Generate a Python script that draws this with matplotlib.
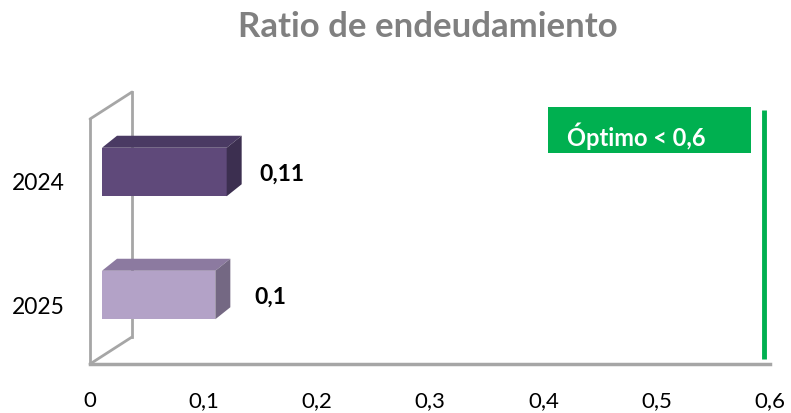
import matplotlib
matplotlib.use("Agg")
import matplotlib.pyplot as plt
from matplotlib.patches import Polygon, Rectangle
from matplotlib.transforms import ScaledTranslation

plt.rcParams['font.family'] = ['Lato', 'DejaVu Sans']

years = ["2025", "2024"]
values = [0.10, 0.11]
value_labels = ["0,1", "0,11"]
front_colors = ["#b3a2c7", "#5f497a"]
top_colors = ["#8c7aa0", "#4a3a63"]
side_colors = ["#746883", "#3c2f50"]
x_ticks = [0, 0.1, 0.2, 0.3, 0.4, 0.5, 0.6]
x_tick_labels = ["0", "0,1", "0,2", "0,3", "0,4", "0,5", "0,6"]
optimo = 0.6
optimo_label = "Óptimo < 0,6"
title = "Ratio de endeudamiento"

W, H = 791, 413
fig = plt.figure(figsize=(W / 100, H / 100), dpi=100)

# axes: x 0 -> px 90, 0.6 -> px 770 ; y from px 364 (bottom) to px 88 (top)
ax_left, ax_right = 90, 770
ax_bottom, ax_top = 364, 88
ax = fig.add_axes([ax_left / W, 1 - ax_bottom / H, (ax_right - ax_left) / W, (ax_bottom - ax_top) / H])
ax.set_xlim(0, 0.6)
ppc = 123.0
ylo = -(ax_bottom - 295) / ppc
yhi = 1 + (172 - ax_top) / ppc
ax.set_ylim(ylo, yhi)
ax.axis("off")

def off(dx, dy):
    return ax.transData + ScaledTranslation(dx / 100, dy / 100, fig.dpi_scale_trans)

bar_h = 48.5 / ppc
shift = 12
ddx, ddy = 15, 12

# back wall and floor
wall_col = "#a6a6a6"
wall_depth_x, wall_depth_y = 42, 27
ytop_wall = ylo + (ax_bottom - 119) / ppc
ax.plot([0, 0], [ylo, ytop_wall], color=wall_col, lw=2, transform=off(0, 0), clip_on=False)
ax.plot([0, 0], [ylo, ytop_wall], color=wall_col, lw=2,
        transform=off(wall_depth_x, wall_depth_y), clip_on=False)
for yy in [ylo, ytop_wall]:
    ax.annotate("", xy=(0, yy), xytext=(0, yy), xycoords=off(wall_depth_x, wall_depth_y), textcoords=off(0, 0),
                arrowprops=dict(arrowstyle="-", color=wall_col, lw=2, shrinkA=0, shrinkB=0))
ax.plot([0, 0.6], [ylo, ylo], color=wall_col, lw=2.5, clip_on=False)

# bars
tr = ax.transData
for i, (v, fc, tc, sc, lab) in enumerate(zip(values, front_colors, top_colors, side_colors, value_labels)):
    y0, y1 = i - bar_h / 2, i + bar_h / 2
    p0 = tr.transform((0, y1)) + [shift, 0]
    p1 = tr.transform((v, y1)) + [shift, 0]
    fig.patches.append(Polygon([p0, p1, p1 + [ddx, ddy], p0 + [ddx, ddy]], closed=True, facecolor=tc,
                               edgecolor="none", transform=None, zorder=3))
    q0 = tr.transform((v, y0)) + [shift, 0]
    q1 = tr.transform((v, y1)) + [shift, 0]
    fig.patches.append(Polygon([q0, q1, q1 + [ddx, ddy], q0 + [ddx, ddy]], closed=True, facecolor=sc,
                               edgecolor="none", transform=None, zorder=3))
    ax.barh(i, v, height=bar_h, left=0, color=fc, transform=off(shift, 0), zorder=4)
    ax.text(v, i, lab, transform=off(shift + 55, -2), ha="center", va="center",
            fontsize=16.5, fontweight="bold", color="black")

# optimum line
ax.plot([optimo, optimo], [ylo + (ax_bottom - 359) / ppc, ylo + (ax_bottom - 110) / ppc],
        color="#00b050", lw=3.5, transform=off(-6, 0), solid_capstyle="butt", clip_on=False)

# optimum label box
fig.patches.append(Rectangle((548 / W, 1 - 153 / H), (751 - 548) / W, (153 - 107) / H,
                             transform=fig.transFigure, facecolor="#00b050", edgecolor="none"))
fig.text(567 / W, 1 - 136 / H, optimo_label, ha="left", va="center", fontsize=17, fontweight="bold",
         color="white")

# tick labels
for xt, tl in zip(x_ticks, x_tick_labels):
    ax.text(xt, ylo, tl, transform=off(0, -37), ha="center", va="center", fontsize=16, color="black")
for i, yl in enumerate(years):
    ax.text(0, i, yl, transform=off(-25, -12), ha="right", va="center", fontsize=16.5, color="black")

fig.text(428 / W, 1 - 27 / H, title, ha="center", va="center", fontsize=25, fontweight="bold", color="#808080")

fig.savefig("out.png", dpi=100)
